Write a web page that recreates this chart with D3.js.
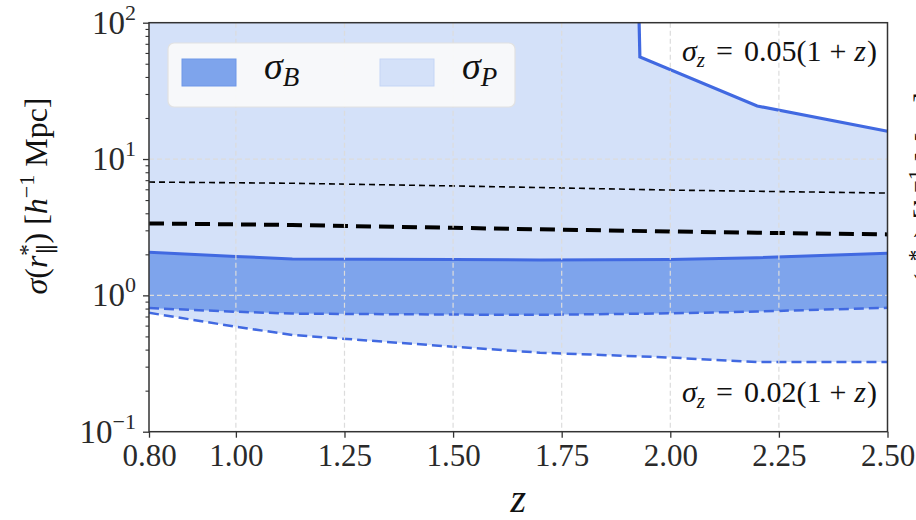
<!DOCTYPE html>
<html>
<head>
<meta charset="utf-8">
<script src="https://cdn.jsdelivr.net/npm/d3@7"></script>
<style>
  body { margin: 0; background: #fff; }
  svg { display: block; font-family: "Liberation Serif", "DejaVu Serif", serif; }
</style>
</head>
<body>
<script>
// redshift grid used by the curves
const zGrid = [0.8, 1.0, 1.13, 1.5, 1.7, 2.0, 2.2, 2.5];

// sigma_B band (upper solid line, lower dashed line)
const bandBUpper = [2.07, 1.93, 1.85, 1.83, 1.82, 1.83, 1.89, 2.04];
const bandBLower = [0.807, 0.758, 0.735, 0.723, 0.72, 0.738, 0.761, 0.811];

// sigma_P band: lower dashed line and the top solid line (off the chart before z~1.93)
const bandPLower = [0.745, 0.589, 0.512, 0.42, 0.38, 0.35, 0.324, 0.324];
const topZ = [0.8, 1.9, 1.93, 2.2, 2.5];
const topVals = [1e6, 1e6, 56, 24.5, 16];

// black dashed reference lines
const thickDash = [3.37, 3.32, 3.28, 3.13, 3.05, 2.94, 2.88, 2.80];
const thinDash = [6.78, 6.70, 6.64, 6.35, 6.18, 5.92, 5.80, 5.63];

const xTicks = [0.8, 1.0, 1.25, 1.5, 1.75, 2.0, 2.25, 2.5];
const yTicks = [0.1, 1, 10, 100];
const yExps = ["\u22121", "0", "1", "2"];

const W = 916, H = 520;
const mLeft = 149, mRight = 887.5, mTop = 22.7, mBottom = 431.7;

const blue = "#4169e1";
const darkFill = "#7ea4ec";
const lightFill = "#d4e1f9";

const svg = d3.select("body").append("svg").attr("width", W).attr("height", H);

const x = d3.scaleLinear().domain([0.8, 2.5]).range([mLeft, mRight]);
const y = d3.scaleLog().domain([0.1, 100]).range([mBottom, mTop]);

svg.append("clipPath").attr("id", "plot")
  .append("rect").attr("x", mLeft).attr("y", mTop)
  .attr("width", mRight - mLeft).attr("height", mBottom - mTop);

const g = svg.append("g").attr("clip-path", "url(#plot)");

// edges of the light band, looked up on a merged z list (log-linear between points)
const logInterp = (zs, vs) => (z) => {
  for (let i = 0; i < zs.length - 1; i++) {
    if (z >= zs[i] && z <= zs[i + 1]) {
      const t = (z - zs[i]) / (zs[i + 1] - zs[i]);
      return Math.pow(10, Math.log10(vs[i]) * (1 - t) + Math.log10(vs[i + 1]) * t);
    }
  }
  return vs[vs.length - 1];
};
const topAt = logInterp(topZ, topVals);
const lowAt = logInterp(zGrid, bandPLower);
const allZ = Array.from(new Set(zGrid.concat(topZ))).sort((a, b) => a - b);

const area = d3.area()
  .x((d) => x(d.z))
  .y0((d) => y(d.lo))
  .y1((d) => y(d.hi));

g.append("path")
  .datum(allZ.map((z) => ({ z: z, lo: lowAt(z), hi: topAt(z) })))
  .attr("d", area)
  .attr("fill", lightFill);

g.append("path")
  .datum(zGrid.map((z, i) => ({ z: z, lo: bandBLower[i], hi: bandBUpper[i] })))
  .attr("d", area)
  .attr("fill", darkFill);

// grid lines
const grid = svg.append("g");
grid.selectAll(".gx").data(xTicks.slice(1, -1)).enter().append("line")
  .attr("x1", (d) => x(d)).attr("x2", (d) => x(d))
  .attr("y1", mTop).attr("y2", mBottom)
  .attr("stroke", "#dcdcdc").attr("stroke-width", 1.2)
  .attr("stroke-dasharray", "5,3");
grid.selectAll(".gy").data([1, 10]).enter().append("line")
  .attr("x1", mLeft).attr("x2", mRight)
  .attr("y1", (d) => y(d)).attr("y2", (d) => y(d))
  .attr("stroke", "#dcdcdc").attr("stroke-width", 1.2)
  .attr("stroke-dasharray", "5,3");

const line = d3.line().x((d) => x(d[0])).y((d) => y(d[1]));
const pairs = (zs, vs) => zs.map((z, i) => [z, vs[i]]);

// black dashed lines
g.append("path").datum(pairs(zGrid, thinDash)).attr("d", line)
  .attr("fill", "none").attr("stroke", "#000").attr("stroke-width", 1.6)
  .attr("stroke-dasharray", "6,4");
g.append("path").datum(pairs(zGrid, thickDash)).attr("d", line)
  .attr("fill", "none").attr("stroke", "#000").attr("stroke-width", 4)
  .attr("stroke-dasharray", "15,8");

// blue lines
g.append("path").datum(pairs(zGrid, bandBUpper)).attr("d", line)
  .attr("fill", "none").attr("stroke", blue).attr("stroke-width", 3);
g.append("path").datum(pairs(zGrid, bandBLower)).attr("d", line)
  .attr("fill", "none").attr("stroke", blue).attr("stroke-width", 2.5)
  .attr("stroke-dasharray", "10,5");
g.append("path").datum(pairs(zGrid, bandPLower)).attr("d", line)
  .attr("fill", "none").attr("stroke", blue).attr("stroke-width", 2.5)
  .attr("stroke-dasharray", "10,5");
g.append("path").datum(pairs(topZ, topVals)).attr("d", line)
  .attr("fill", "none").attr("stroke", blue).attr("stroke-width", 3.2);

// axes
const xAxis = d3.axisBottom(x).tickValues(xTicks).tickFormat(d3.format(".2f"))
  .tickSize(6).tickPadding(6);
const xg = svg.append("g").attr("transform", "translate(0," + mBottom + ")").call(xAxis);
xg.select(".domain").remove();
xg.selectAll("line").attr("stroke", "#333").attr("stroke-width", 1.3);
xg.selectAll("text").attr("font-size", 31).attr("fill", "#2a2a2a")
  .attr("font-family", "Liberation Serif");

const minor = [];
[0.1, 1, 10].forEach((b) => { for (let k = 2; k <= 9; k++) minor.push(b * k); });
const yAxisMinor = d3.axisLeft(y).tickValues(minor).tickSize(3.5).tickFormat("");
const ygm = svg.append("g").attr("transform", "translate(" + mLeft + ",0)").call(yAxisMinor);
ygm.select(".domain").remove();
ygm.selectAll("line").attr("stroke", "#333").attr("stroke-width", 1.1);

const yAxis = d3.axisLeft(y).tickValues(yTicks).tickSize(6).tickFormat("");
const yg = svg.append("g").attr("transform", "translate(" + mLeft + ",0)").call(yAxis);
yg.select(".domain").remove();
yg.selectAll("line").attr("stroke", "#333").attr("stroke-width", 1.3);

const yl = svg.append("g").selectAll("text").data(yTicks).enter().append("text")
  .attr("x", 136).attr("y", (d) => y(d) + 11)
  .attr("text-anchor", "end").attr("font-size", 33).attr("fill", "#2a2a2a");
yl.append("tspan").text("10");
yl.append("tspan").attr("dy", -14).attr("font-size", 22).text((d, i) => yExps[i]);

// frame
svg.append("rect").attr("x", mLeft).attr("y", mTop)
  .attr("width", mRight - mLeft).attr("height", mBottom - mTop)
  .attr("fill", "none").attr("stroke", "#333").attr("stroke-width", 1.5);

// legend
const lg = svg.append("g");
lg.append("rect").attr("x", 168).attr("y", 43).attr("width", 347).attr("height", 64)
  .attr("rx", 6).attr("fill", "#fafafa").attr("fill-opacity", 0.92)
  .attr("stroke", "#e2e2e2").attr("stroke-width", 1.2);
const legendItems = [
  { name: "B", fill: darkFill, stroke: "#6f97e8", x: 182 },
  { name: "P", fill: lightFill, stroke: "#c5d5f5", x: 380 }
];
legendItems.forEach((it) => {
  lg.append("rect").attr("x", it.x).attr("y", 59).attr("width", 54).attr("height", 27)
    .attr("fill", it.fill).attr("stroke", it.stroke).attr("stroke-width", 1);
  const t = lg.append("text").attr("x", it.x + 82).attr("y", 79)
    .attr("font-size", 38).attr("fill", "#111");
  t.append("tspan").attr("font-style", "italic").text("\u03c3");
  t.append("tspan").attr("font-style", "italic").attr("font-size", 27).attr("dy", 7).text(it.name);
});

// annotations (math spacing added with dx)
const ann = (txt, yy) => {
  const t = svg.append("text").attr("x", 877).attr("y", yy)
    .attr("text-anchor", "end").attr("font-size", 30).attr("fill", "#111");
  t.append("tspan").attr("font-style", "italic").text("\u03c3");
  t.append("tspan").attr("font-style", "italic").attr("font-size", 21).attr("dy", 6).text("z");
  t.append("tspan").attr("dy", -6).attr("dx", 11).text("=");
  t.append("tspan").attr("dx", 11).text(txt + "(1");
  t.append("tspan").attr("dx", 8).text("+");
  t.append("tspan").attr("dx", 8).attr("font-style", "italic").text("z");
  t.append("tspan").attr("dx", 1).text(")");
};
ann("0.05", 61);
ann("0.02", 402);

// x label
svg.append("text").attr("x", x(1.65)).attr("y", 512)
  .attr("text-anchor", "middle").attr("font-size", 40).attr("font-style", "italic")
  .attr("fill", "#111").text("z");

// y labels (this panel and the edge of the neighbouring one)
const ylabel = (cx, sub) => {
  const t = svg.append("text")
    .attr("transform", "translate(" + cx + ",196) rotate(-90)")
    .attr("text-anchor", "middle").attr("font-size", 32).attr("fill", "#111");
  t.append("tspan").attr("font-style", "italic").text("\u03c3");
  t.append("tspan").text("(");
  t.append("tspan").attr("font-style", "italic").text("r");
  t.append("tspan").attr("font-size", 23).attr("dy", -12).text("*");
  t.append("tspan").attr("font-size", 23).attr("dx", -10).attr("dy", 20).text(sub);
  t.append("tspan").attr("dy", -8).text(") [");
  t.append("tspan").attr("font-style", "italic").text("h");
  t.append("tspan").attr("font-size", 22).attr("dy", -13).text("\u22121");
  t.append("tspan").attr("dy", 13).text(" Mpc]");
};
ylabel(47, "\u2225");
ylabel(936, "\u22a5");
</script>
</body>
</html>
